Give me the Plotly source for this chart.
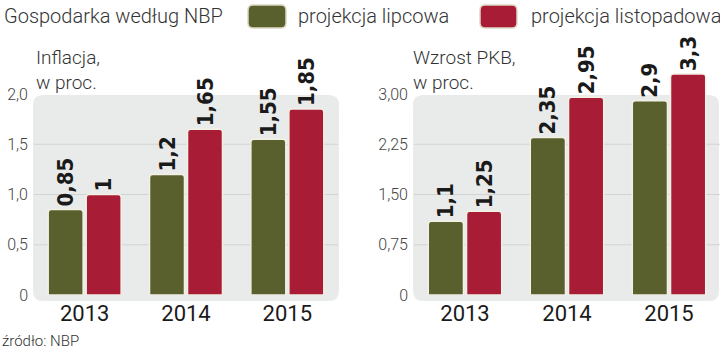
import plotly.graph_objects as go

# ---------------- data ----------------
years = ["2013", "2014", "2015"]
series_names = ["projekcja lipcowa", "projekcja listopadowa"]
inflation_july = [0.85, 1.2, 1.55]
inflation_nov = [1.0, 1.65, 1.85]
gdp_july = [1.1, 2.35, 2.9]
gdp_nov = [1.25, 2.95, 3.3]
infl_ticks = [0, 0.5, 1.0, 1.5, 2.0]
infl_ticktext = ["0", "0,5", "1,0", "1,5", "2,0"]
gdp_ticks = [0, 0.75, 1.5, 2.25, 3.0]
gdp_ticktext = ["0", "0,75", "1,50", "2,25", "3,00"]
title_text = "Gospodarka według NBP"
panel_titles = ["Inflacja,<br>w proc.", "Wzrost PKB,<br>w proc."]
source_text = "źródło: NBP"

# ---------------- style ----------------
W, H = 720, 351
ZERO_PX = 295          # pixel row of value 0
TOPTICK_PX = 94        # pixel row of the top tick (2,0 / 3,00)
T = 30                 # top of plot area (pixels)
B = H - ZERO_PX
PH = ZERO_PX - T
scale = PH / (ZERO_PX - TOPTICK_PX)
GREEN = "#5a5f2e"
RED = "#a81c35"
BG = "#e9eaea"
GRID = "#d2d3d3"
BORDER = "#f3f0e4"
LABEL_FONT = dict(family="DejaVu Sans Condensed", size=22, color="#1a1a1a", weight="bold")
TXT = "#333333"
TFONT = dict(family="Roboto", size=20, color=TXT, weight=300)


def px_x(x):
    return x / W


def px_y(y):
    return (ZERO_PX - y) / PH


def fmt(v):
    return ("%g" % v).replace(".", ",")


def rounded_rect(x0, y0, x1, y1, r):
    X, Y = px_x, px_y
    rx = r / W
    ry = r / PH
    return (
        f"M {X(x0)+rx},{Y(y0)} L {X(x1)-rx},{Y(y0)} "
        f"Q {X(x1)},{Y(y0)} {X(x1)},{Y(y0)-ry} "
        f"L {X(x1)},{Y(y1)+ry} Q {X(x1)},{Y(y1)} {X(x1)-rx},{Y(y1)} "
        f"L {X(x0)+rx},{Y(y1)} Q {X(x0)},{Y(y1)} {X(x0)},{Y(y1)+ry} "
        f"L {X(x0)},{Y(y0)-ry} Q {X(x0)},{Y(y0)} {X(x0)+rx},{Y(y0)} Z"
    )


fig = go.Figure()

panels = [
    ("x", "y", inflation_july, inflation_nov),
    ("x2", "y2", gdp_july, gdp_nov),
]
for xa, ya, july, nov in panels:
    for name, vals, col in [(series_names[0], july, GREEN), (series_names[1], nov, RED)]:
        fig.add_trace(go.Bar(
            x=years, y=vals, name=name, xaxis=xa, yaxis=ya,
            marker=dict(color=col, cornerradius=3, line=dict(color=BORDER, width=1.5)),
            text=[fmt(v) for v in vals], textposition="outside", textangle=-90,
            textfont=LABEL_FONT, cliponaxis=False, constraintext="none",
            showlegend=False, hoverinfo="skip",
        ))

shapes = []
shapes.append(dict(type="path", xref="paper", yref="paper", layer="below",
                   path=rounded_rect(33, 95, 339, 301, 10), fillcolor=BG, line=dict(width=0)))
shapes.append(dict(type="path", xref="paper", yref="paper", layer="below",
                   path=rounded_rect(413, 95, 719, 301, 10), fillcolor=BG, line=dict(width=0)))
for ya, ticks in [("y", infl_ticks), ("y2", gdp_ticks)]:
    xd = "x domain" if ya == "y" else "x2 domain"
    for t in ticks[1:-1]:
        shapes.append(dict(type="line", xref=xd, yref=ya, x0=0, x1=1, y0=t, y1=t,
                           layer="below", line=dict(color=GRID, width=1)))
for (x0, x1), col in [((248, 286), GREEN), ((480, 517), RED)]:
    shapes.append(dict(type="path", xref="paper", yref="paper",
                       path=rounded_rect(x0, 5, x1, 28, 5), fillcolor=col,
                       line=dict(color="#ddd8c4", width=1.5)))

annotations = []
annotations.append(dict(text=title_text, x=px_x(2), y=px_y(16), xref="paper", yref="paper",
                        xanchor="left", yanchor="middle", showarrow=False, font=TFONT))
for xpos, name in [(296, series_names[0]), (529, series_names[1])]:
    annotations.append(dict(text=name, x=px_x(xpos), y=px_y(16), xref="paper", yref="paper",
                            xanchor="left", yanchor="middle", showarrow=False,
                            font=dict(TFONT, size=20)))
for xpos, txt in zip([34, 411], panel_titles):
    annotations.append(dict(text=txt, x=px_x(xpos), y=px_y(70), xref="paper", yref="paper",
                            xanchor="left", yanchor="middle", align="left", showarrow=False,
                            font=dict(TFONT, size=19)))
annotations.append(dict(text=source_text, x=0, y=px_y(341), xref="paper", yref="paper",
                        xanchor="left", yanchor="middle", showarrow=False,
                        font=dict(TFONT, size=15)))

xcommon = dict(type="category", showgrid=False, zeroline=False, showline=False, ticks="",
               tickfont=dict(family="Roboto", size=22, color="#1a1a1a"),
               ticklabelstandoff=3, fixedrange=True)
ycommon = dict(showgrid=False, zeroline=False, showline=False, ticks="",
               tickfont=dict(family="Roboto", size=16, color="#444444", weight=300),
               ticklabelstandoff=5, fixedrange=True, domain=[0, 1])

fig.update_layout(
    width=W, height=H,
    margin=dict(l=0, r=0, t=T, b=B),
    paper_bgcolor="white", plot_bgcolor="rgba(0,0,0,0)",
    barmode="group", bargap=0.25, bargroupgap=0.08,
    xaxis=dict(domain=[px_x(34), px_x(338)], anchor="y", **xcommon),
    xaxis2=dict(domain=[px_x(414), 1.0], anchor="y2", **xcommon),
    yaxis=dict(range=[0, infl_ticks[-1] * scale], tickvals=infl_ticks, ticktext=infl_ticktext,
               anchor="x", **ycommon),
    yaxis2=dict(range=[0, gdp_ticks[-1] * scale], tickvals=gdp_ticks, ticktext=gdp_ticktext,
                anchor="x2", **ycommon),
    shapes=shapes, annotations=annotations,
    showlegend=False,
)

fig.write_html("out.html")
